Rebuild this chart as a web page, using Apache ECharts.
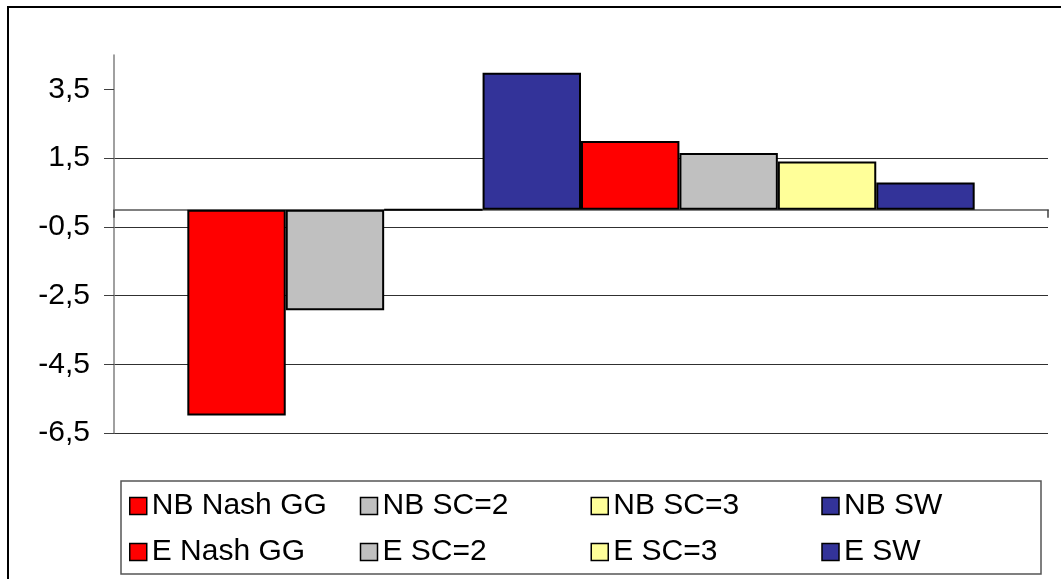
<!DOCTYPE html>
<html>
<head>
<meta charset="utf-8">
<script src="https://cdn.jsdelivr.net/npm/echarts@6/dist/echarts.min.js"></script>
<style>
  html, body { margin: 0; padding: 0; background: #fff; }
  #chart { width: 1061px; height: 579px; }
</style>
</head>
<body>
<div id="chart"></div>
<script>
// Series shown as bars in a single group
const seriesNames = ['NB Nash GG', 'NB SC=2', 'NB SC=3', 'NB SW', 'E Nash GG', 'E SC=2', 'E SC=3', 'E SW'];
const seriesValues = [-5.99, -2.93, 0, 3.98, 2.0, 1.65, 1.4, 0.79];
const categories = [''];

// Value axis ticks
const yTickValues = [-6.5, -4.5, -2.5, -0.5, 1.5, 3.5];
const yMin = -6.5;
const yMax = 4.5;

const palette = ['#FF0000', '#C0C0C0', '#FFFF99', '#333399', '#FF0000', '#C0C0C0', '#FFFF99', '#333399'];
const FONT = 'Liberation Sans, Arial, sans-serif';

const chart = echarts.init(document.getElementById('chart'), null, { renderer: 'canvas' });

const option = {
  animation: false,
  backgroundColor: '#ffffff',
  grid: { left: 114, right: 13, top: 55, bottom: 146, containLabel: false },
  xAxis: {
    type: 'category',
    data: categories,
    axisLine: { onZero: true, lineStyle: { color: '#808080', width: 2 } },
    axisTick: { show: true, length: 8, lineStyle: { color: '#404040', width: 1.5 } },
    axisLabel: { show: false },
    splitLine: { show: false }
  },
  yAxis: {
    type: 'value',
    min: yMin,
    max: yMax,
    axisLine: { show: true, lineStyle: { color: '#808080', width: 1.5 } },
    axisTick: { show: true, length: 10, customValues: yTickValues, lineStyle: { color: '#404040', width: 1 } },
    axisLabel: {
      customValues: yTickValues,
      margin: 24,
      color: '#000',
      fontFamily: FONT,
      fontSize: 30,
      formatter: v => String(v).replace('.', ',')
    },
    splitLine: { show: true, showMaxLine: false, lineStyle: { color: '#303030', width: 1 } }
  },
  legend: {
    data: seriesNames,
    left: 129,
    top: 483,
    width: 925,
    padding: 0,
    orient: 'horizontal',
    itemGap: 0,
    itemWidth: 17,
    itemHeight: 17,
    icon: 'rect',
    itemStyle: { borderColor: '#000', borderWidth: 1.5 },
    textStyle: {
      fontFamily: FONT,
      fontSize: 30,
      color: '#000',
      width: 208,
      lineHeight: 46
    }
  },
  graphic: [
    {
      type: 'rect',
      shape: { x: 8, y: 7, width: 1100, height: 620 },
      style: { fill: null, stroke: '#000', lineWidth: 2 },
      silent: true,
      z: 100
    },
    {
      type: 'rect',
      shape: { x: 121, y: 481, width: 920, height: 93 },
      style: { fill: null, stroke: '#555', lineWidth: 1.5 },
      silent: true,
      z: 100
    }
  ],
  series: seriesNames.map((name, i) => ({
    name,
    type: 'bar',
    data: [seriesValues[i]],
    barGap: '0%',
    barCategoryGap: '15.7%',
    itemStyle: { color: palette[i], borderColor: '#000', borderWidth: 2 }
  }))
};

chart.setOption(option);
</script>
</body>
</html>
